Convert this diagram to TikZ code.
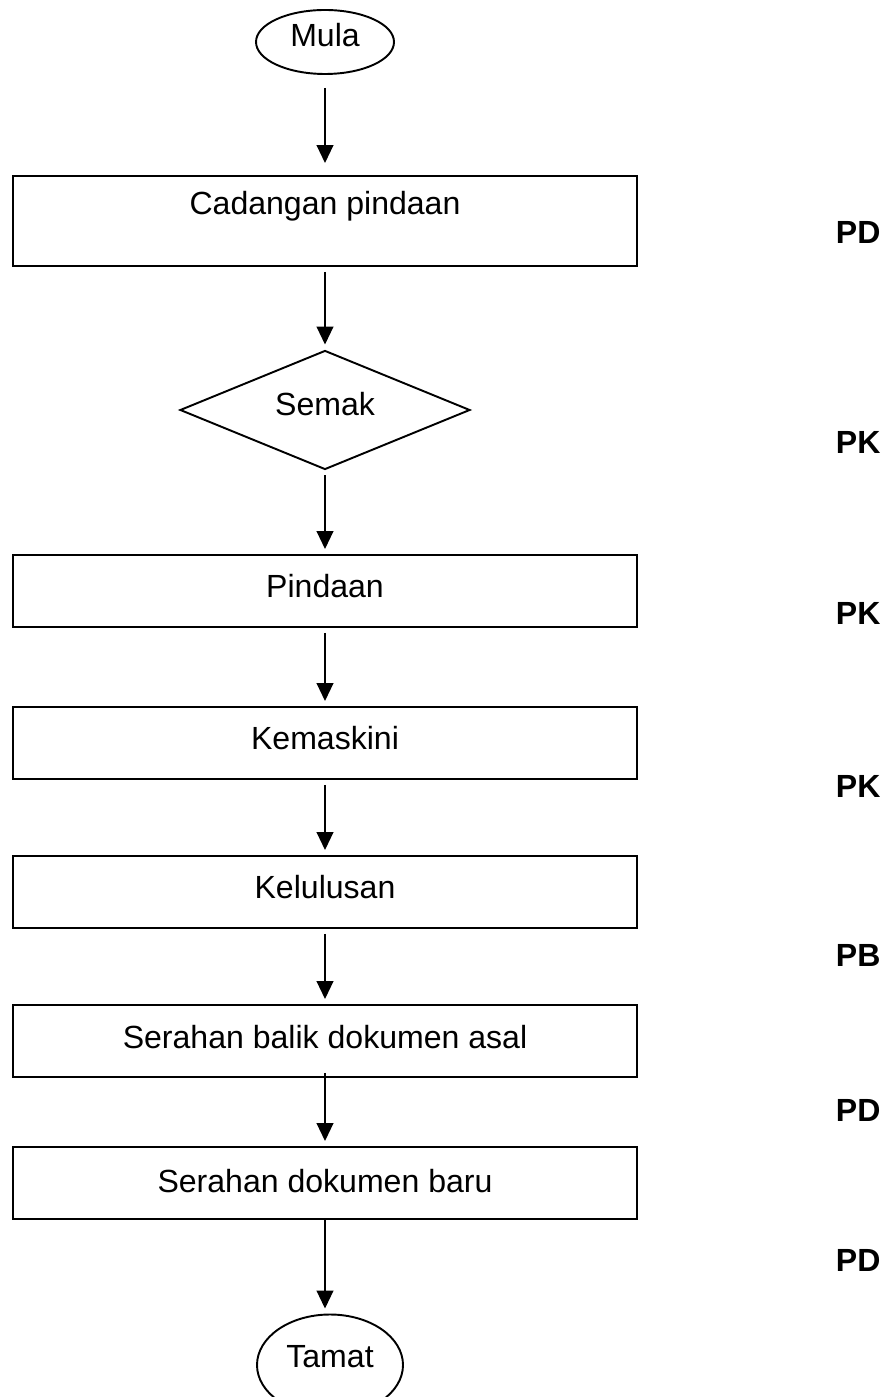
\documentclass[tikz,border=0pt]{standalone}
\usepackage{fontspec}
\setmainfont{Liberation Sans}
\usetikzlibrary{shapes.geometric,arrows.meta}
\newcommand{\pxu}{0.39pt}

\begin{document}
\begin{tikzpicture}[
    x=\pxu, y=-\pxu,
    font=\fontsize{12.5}{15}\selectfont,
    line width=0.75pt,
    every node/.style={inner sep=0pt, text height=22*\pxu, text depth=10*\pxu},
    terminal/.style={draw, ellipse},
    process/.style={draw, rectangle, minimum width=624*\pxu, minimum height=72*\pxu},
    decision/.style={draw, diamond, shape aspect=2.44, minimum width=290*\pxu, minimum height=119*\pxu},
    flow/.style={-{Triangle[length=7pt,width=6.5pt]}, shorten <=5*\pxu, shorten >=5*\pxu},
    role/.style={anchor=base west, font=\fontsize{12.5}{15}\selectfont\bfseries}
  ]
  \useasboundingbox (0,0) rectangle (885,1397);

  \node[terminal, minimum width=138*\pxu, minimum height=64*\pxu, text depth=12*\pxu] (mula)   at (325,42)   {Mula};
  \node[process, minimum height=90*\pxu, text depth=34*\pxu]                       (cadang) at (325,221)  {Cadangan pindaan};
  \node[decision]                                                                   (semak)  at (325,410)  {Semak};
  \node[process]                                                                    (pinda)  at (325,591)  {Pindaan};
  \node[process]                                                                    (kemas)  at (325,743)  {Kemaskini};
  \node[process]                                                                    (lulus)  at (325,892)  {Kelulusan};
  \node[process, text depth=8*\pxu]                                                 (balik)  at (325,1041) {Serahan balik dokumen asal};
  \node[process, text depth=4*\pxu]                                                 (baru)   at (325,1183) {Serahan dokumen baru};
  \node[terminal, minimum width=146*\pxu, minimum height=101*\pxu, text depth=18*\pxu] (tamat) at (330,1365) {Tamat};

  \node[role] (pd1) at (835,244)  {PD};
  \node[role] (pk1) at (835,454)  {PK};
  \node[role] (pk2) at (835,624)  {PK};
  \node[role] (pk3) at (835,797)  {PK};
  \node[role] (pb1) at (835,966)  {PB};
  \node[role] (pd2) at (835,1121) {PD};
  \node[role] (pd3) at (835,1271) {PD};

  \draw[flow, shorten <=13*\pxu, shorten >=12*\pxu] (mula) -- (cadang);
  \draw[flow] (cadang) -- (semak);
  \draw[flow] (semak) -- (pinda);
  \draw[flow] (pinda) -- (kemas);
  \draw[flow] (kemas) -- (lulus);
  \draw[flow] (lulus) -- (balik);
  \draw[flow, shorten <=-5*\pxu] (balik) -- (baru);
  \draw[flow, shorten <=0pt] (baru.south) -- (baru.south |- tamat.north);
\end{tikzpicture}
\end{document}
